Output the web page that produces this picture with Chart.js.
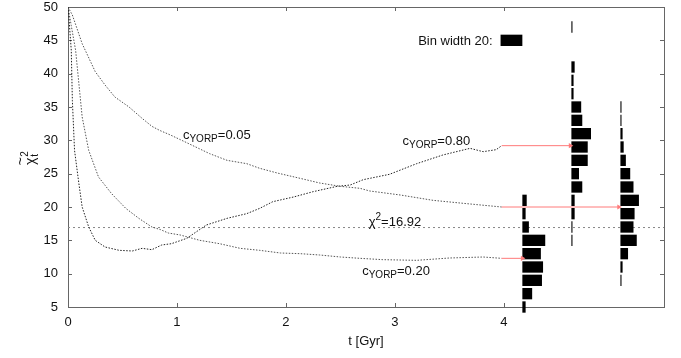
<!DOCTYPE html>
<html>
<head>
<meta charset="utf-8">
<script src="https://cdn.jsdelivr.net/npm/chart.js@4.4.0/dist/chart.umd.min.js"></script>
<style>
  html, body { margin: 0; padding: 0; background: #fff; }
</style>
</head>
<body>
<canvas id="chiChart" width="681" height="358"></canvas>
<script>
// --- data ---
const xTicks = [0, 1, 2, 3, 4];
const xMax = 5.47;
const chi2Level = 16.92;

// chi^2 evolution for the three YORP strengths
const tC005 = [0, 0.04, 0.13, 0.25, 0.34, 0.43, 0.56, 0.68, 0.77, 0.84, 0.94, 1.07, 1.30, 1.46, 1.64, 1.76, 1.92, 2.13, 2.31, 2.50, 2.68, 2.77, 3.05, 3.35, 3.66, 3.98];
const chiC005 = [50, 48.8, 44.5, 40.3, 38.3, 36.5, 35.0, 33.3, 32.1, 31.5, 30.8, 29.8, 28.0, 27.0, 26.5, 25.8, 25.1, 24.3, 23.6, 23.1, 22.8, 22.4, 21.8, 21.0, 20.5, 20.0];

const tC020 = [0, 0.03, 0.07, 0.10, 0.13, 0.19, 0.28, 0.40, 0.53, 0.65, 0.77, 0.85, 0.92, 1.03, 1.21, 1.39, 1.58, 1.76, 1.95, 2.13, 2.31, 2.50, 2.68, 2.89, 3.20, 3.50, 3.81, 3.98];
const chiC020 = [50, 47.2, 43.5, 38.5, 33.5, 28.5, 24.5, 22.0, 19.8, 18.3, 17.0, 16.6, 16.1, 15.8, 15.0, 14.5, 13.8, 13.5, 13.1, 13.0, 12.8, 12.5, 12.3, 12.1, 12.0, 12.35, 12.5, 12.3];

const tC080 = [0, 0.01, 0.03, 0.04, 0.06, 0.10, 0.13, 0.19, 0.25, 0.34, 0.47, 0.59, 0.68, 0.77, 0.86, 0.95, 1.09, 1.27, 1.46, 1.64, 1.76, 1.88, 2.07, 2.25, 2.47, 2.59, 2.71, 2.95, 3.20, 3.44, 3.69, 3.81, 3.93, 3.98];
const chiC080 = [50, 48.0, 43.5, 36.0, 28.5, 23.5, 20.0, 17.0, 15.0, 14.0, 13.5, 13.4, 13.8, 13.6, 14.3, 14.5, 15.3, 17.3, 18.3, 19.0, 19.8, 20.8, 21.5, 22.3, 23.1, 23.3, 24.1, 24.9, 26.5, 27.8, 28.8, 28.3, 28.6, 29.2];

// final chi^2 histograms (bin width 2), counts per bin
const bins020 = [21, 19, 17, 15, 13, 11, 9, 7, 5];
const counts020 = [4, 3, 6, 21, 17, 19, 18, 9, 3];
const bins080 = [47, 45, 43, 41, 39, 37, 35, 33, 31, 29, 27, 25, 23, 21, 19, 17, 15];
const counts080 = [1, 0, 0, 3, 2, 2, 9, 10, 18, 15, 15, 7, 10, 3, 3, 1, 1];
const bins005 = [35, 33, 31, 29, 27, 25, 23, 21, 19, 17, 15, 13, 11, 9];
const counts005 = [1, 1, 2, 3, 5, 9, 12, 17, 13, 12, 15, 7, 2, 1];

const histBase = [4.17, 4.62, 5.07];   // t where each histogram starts
const gyrPerCount = 0.01;              // horizontal length of one count
const keyCount = 20;
const keyBin = 45;
const arrowStart = 3.98;

// --- helpers ---
const FONT = "'Liberation Sans', Arial, sans-serif";
const pts = (xs, ys) => xs.map((x, i) => ({ x, y: ys[i] }));
const histData = (bins, counts, base) => bins
    .map((b, i) => ({ y: b, x: [base, base + counts[i] * gyrPerCount] }))
    .filter((d, i) => counts[i] > 0);

function curve(xs, ys, color) {
    return {
        type: "line", data: pts(xs, ys), borderColor: color, borderWidth: 1,
        borderDash: [1.5, 1.5], pointRadius: 0, tension: 0, fill: false
    };
}
function arrow(yVal, xEnd) {
    return {
        type: "line", data: [{ x: arrowStart, y: yVal }, { x: xEnd, y: yVal }],
        borderColor: "#ff7a7a", borderWidth: 1, pointRadius: [0, 3],
        pointStyle: "triangle", pointRotation: 90, pointBackgroundColor: "#ff7a7a",
        pointBorderWidth: 0, tension: 0, clip: false
    };
}
function hist(data) {
    return {
        type: "bar", indexAxis: "y", data, backgroundColor: "#000", borderWidth: 0,
        grouped: false, barPercentage: 1, categoryPercentage: 0.85, clip: false
    };
}

const last = a => a[a.length - 1];

// --- frame with inward ticks (gnuplot style) ---
const framePlugin = {
    id: "frame",
    beforeDatasetsDraw(chart) {
        const { ctx, chartArea: a, scales: { x, y } } = chart;
        ctx.save();
        ctx.strokeStyle = "#666";
        ctx.lineWidth = 1;
        ctx.strokeRect(a.left + 0.5, a.top + 0.5, a.right - a.left, a.bottom - a.top);
        ctx.beginPath();
        x.ticks.forEach(t => {
            const px = Math.round(x.getPixelForValue(t.value)) + 0.5;
            ctx.moveTo(px, a.bottom); ctx.lineTo(px, a.bottom - 4);
            ctx.moveTo(px, a.top); ctx.lineTo(px, a.top + 4);
        });
        y.ticks.forEach(t => {
            const py = Math.round(y.getPixelForValue(t.value)) + 0.5;
            ctx.moveTo(a.left, py); ctx.lineTo(a.left + 4, py);
            ctx.moveTo(a.right, py); ctx.lineTo(a.right - 4, py);
        });
        ctx.stroke();
        ctx.restore();
    }
};

// --- text labels ---
const sub = t => ({ t, size: 10, dy: 3 });
const big = t => ({ t, size: 13, dy: 0 });
const notes = [
    { x: 1.055, y: 30.15, parts: [big("c"), sub("YORP"), big("=0.05")] },
    { x: 3.07, y: 29.25, parts: [big("c"), sub("YORP"), big("=0.80")] },
    { x: 2.70, y: 9.76, parts: [big("c"), sub("YORP"), big("=0.20")] },
    { x: 2.76, y: 17.1, parts: [big("\u03c7"), { t: "2", size: 10, dy: -6 }, big("=16.92")] }
];

function drawRich(ctx, x, y, parts) {
    let cx = x;
    parts.forEach(p => {
        ctx.font = p.size + "px " + FONT;
        ctx.fillText(p.t, cx, y + p.dy);
        cx += ctx.measureText(p.t).width;
    });
}

const labelPlugin = {
    id: "labels",
    afterDatasetsDraw(chart) {
        const { ctx, chartArea: a, scales: { x, y } } = chart;
        ctx.save();
        ctx.fillStyle = "#111";
        ctx.textBaseline = "alphabetic";
        ctx.textAlign = "left";
        notes.forEach(n => drawRich(ctx, x.getPixelForValue(n.x), y.getPixelForValue(n.y), n.parts));

        ctx.textAlign = "right";
        ctx.font = "13px " + FONT;
        ctx.fillText("Bin width " + keyCount + ":", x.getPixelForValue(histBase[0] - keyCount * gyrPerCount) - 8, y.getPixelForValue(keyBin) + 5);

        // y axis title: chi-tilde squared, subscript t (rotated)
        ctx.translate(a.left - 37, (a.top + a.bottom) / 2);
        ctx.rotate(-Math.PI / 2);
        ctx.textAlign = "left";
        ctx.font = "14px " + FONT;
        const w = ctx.measureText("\u03c7").width;
        ctx.fillText("\u03c7", -8, 4);
        ctx.fillText("~", -8 + w / 2 - 4, -6);
        ctx.font = "10px " + FONT;
        ctx.fillText("2", -8 + w + 1, -3);
        ctx.fillText("t", -8 + w + 1, 7);
        ctx.restore();
    }
};

new Chart(document.getElementById("chiChart"), {
    type: "line",
    data: {
        datasets: [
            arrow(last(chiC080), histBase[1] - 0.01),
            arrow(last(chiC005), histBase[2] - 0.015),
            arrow(last(chiC020), histBase[0]),
            hist(histData(bins020, counts020, histBase[0])),
            hist(histData(bins080, counts080, histBase[1])),
            hist(histData(bins005, counts005, histBase[2])),
            hist([{ y: keyBin, x: [histBase[0] - keyCount * gyrPerCount, histBase[0]] }]),
            curve(tC080, chiC080, "#222"),
            curve(tC020, chiC020, "#555"),
            curve(tC005, chiC005, "#555"),
            {
                type: "line", data: [{ x: 0, y: chi2Level }, { x: xMax, y: chi2Level }],
                borderColor: "#888", borderWidth: 1, borderDash: [2, 3], pointRadius: 0
            }
        ]
    },
    options: {
        responsive: false,
        animation: false,
        layout: { padding: { top: 7, right: 17, left: 0, bottom: 0 } },
        plugins: { legend: { display: false }, tooltip: { enabled: false } },
        scales: {
            x: {
                type: "linear", min: 0, max: xMax,
                afterBuildTicks: s => { s.ticks = xTicks.map(v => ({ value: v })); },
                afterFit: s => { s.height = 51; s.paddingLeft = 0; s.paddingRight = 0; },
                grid: { display: false, drawTicks: false },
                border: { display: false },
                ticks: { color: "#111", padding: 9, font: { family: FONT, size: 13, lineHeight: 1 }, maxRotation: 0 },
                title: { display: true, text: "t [Gyr]", color: "#111", padding: { top: 0, bottom: 10 }, font: { family: FONT, size: 13, lineHeight: 1 } }
            },
            y: {
                type: "linear", min: 5, max: 50, offset: false,
                afterFit: s => { s.width = 68; s.paddingTop = 0; s.paddingBottom = 0; },
                grid: { display: false, offset: false, drawTicks: false },
                border: { display: false },
                ticks: { stepSize: 5, color: "#111", padding: 10, font: { family: FONT, size: 13, lineHeight: 1 } }
            }
        }
    },
    plugins: [framePlugin, labelPlugin]
});
</script>
</body>
</html>
